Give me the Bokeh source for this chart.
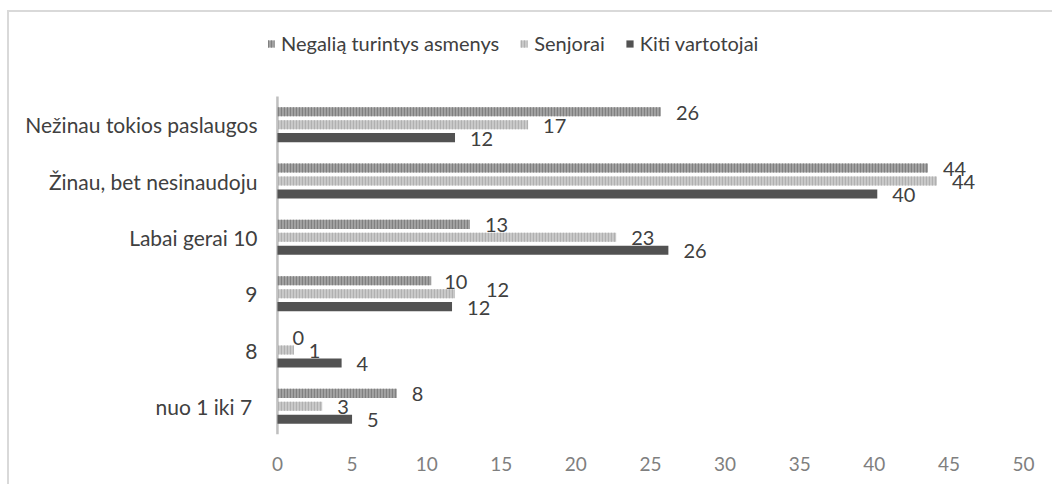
from bokeh.plotting import figure
from bokeh.models import ColumnDataSource, Range1d, FixedTicker, Legend, LegendItem
from bokeh.core.properties import value
from bokeh.embed import file_html
from bokeh.resources import INLINE

categories = ["nuo 1 iki  7", "8", "9", "Labai gerai 10", "Žinau, bet nesinaudoju", "Nežinau tokios paslaugos"]
series_names = ["Negalią turintys asmenys", "Senjorai", "Kiti vartotojai"]
negalia = [8.0, 0.0, 10.3, 12.9, 43.6, 25.7]
senjorai = [3.0, 1.1, 11.9, 22.7, 44.2, 16.8]
kiti = [5.0, 4.3, 11.7, 26.2, 40.2, 11.9]
x_ticks = [0, 5, 10, 15, 20, 25, 30, 35, 40, 45, 50]

FONT = "Lato"
TXT = "#404040"
FS_CAT = "21px"
FS_NUM = "19px"

FRAME_H = 422
CAT_PX = 338 / len(categories)
n = len(categories)
y_top = -0.5 + FRAME_H / CAT_PX

p = figure(width=1043, height=472, y_range=Range1d(-0.5, y_top),
           x_range=Range1d(-0.6, 50), output_backend="svg", toolbar_location=None,
           min_border_left=259, min_border_right=29, min_border_top=0, min_border_bottom=50)
p.frame_width = 755
p.frame_height = FRAME_H
p.outline_line_color = None
p.xgrid.visible = False
p.ygrid.visible = False
p.styles = {"margin-left": "7px", "margin-top": "10px",
            "border-left": "2px solid #d9d9d9", "border-top": "2px solid #d9d9d9"}

# vertical axis line at x = 0, spanning only the category band
p.segment(x0=[0], y0=[-0.5], x1=[0], y1=[n - 0.5], line_color="#bfbfbf", line_width=2.5)

series = [negalia, senjorai, kiti]
offsets = [0.23, 0.0, -0.23]
fills = ["#a3a3a3", "#cacaca", "#525252"]
hatches = ["#808080", "#b0b0b0", None]
# manual label nudges (Excel moved one overlapping label)
label_dx = [[0, 0, -2, 0, 0, 0], [0, 0, 16, 0, 0, 0], [0, 0, 0, 0, 0, 0]]
label_dy = [[0, 0, 0, 0, 0, 0], [0, 0, -5, 0, 0, 0], [0, 0, 0, 0, 0, 0]]

items = []
for i, vals in enumerate(series):
    src = ColumnDataSource(dict(y=[k + offsets[i] for k in range(n)], val=vals,
                                lab=[str(int(round(v))) for v in vals],
                                dx=[15 + d for d in label_dx[i]],
                                dy=[1 + d for d in label_dy[i]]))
    kw = dict(fill_color=fills[i], line_color=None)
    if hatches[i]:
        kw.update(hatch_pattern="vertical_line", hatch_color=hatches[i], hatch_scale=3, hatch_weight=1.2)
    r = p.hbar(y="y", right="val", left=0, height=0.16, source=src, **kw)
    p.text(x="val", y="y", text="lab", source=src,
           x_offset="dx", y_offset="dy", text_align="left", text_baseline="middle",
           text_font=value(FONT), text_font_size="20px", text_color=TXT)
    items.append(LegendItem(label=series_names[i], renderers=[r]))

legend = Legend(items=items, orientation="horizontal", location=(-2, 379),
                glyph_width=9, glyph_height=9, label_standoff=6, spacing=20,
                padding=0, margin=0, border_line_color=None, background_fill_alpha=0,
                label_text_font=FONT, label_text_font_size="20px", label_text_color=TXT,
                label_height=20)
p.add_layout(legend, "center")

p.yaxis.ticker = FixedTicker(ticks=list(range(n)))
p.yaxis.major_label_overrides = {k: c for k, c in enumerate(categories)}
p.yaxis.axis_line_color = None
p.yaxis.major_tick_line_color = None
p.yaxis.minor_tick_line_color = None
p.yaxis.major_label_standoff = 5
p.yaxis.major_label_text_font = FONT
p.yaxis.major_label_text_font_size = FS_CAT
p.yaxis.major_label_text_color = TXT

p.xaxis.ticker = FixedTicker(ticks=x_ticks)
p.xaxis.axis_line_color = None
p.xaxis.major_tick_line_color = None
p.xaxis.minor_tick_line_color = None
p.xaxis.major_label_standoff = 16
p.xaxis.major_label_text_font = FONT
p.xaxis.major_label_text_font_size = FS_NUM
p.xaxis.major_label_text_color = "#7f7f7f"

open("out.html", "w").write(file_html(p, INLINE))
